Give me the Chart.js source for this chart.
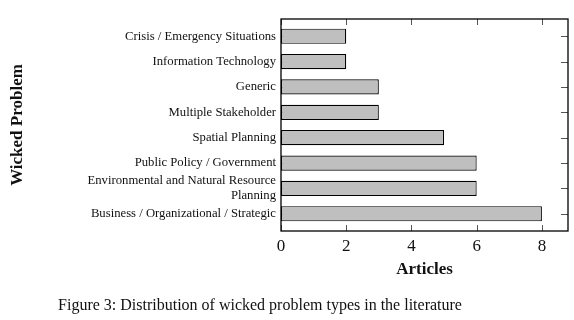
<!DOCTYPE html>
<html>
<head>
<meta charset="utf-8">
<script src="https://cdn.jsdelivr.net/npm/chart.js@4"></script>
<style>
  html, body { margin: 0; padding: 0; background: #fff; }
  #wrap { position: relative; width: 574px; height: 320px; }
  #caption {
    position: absolute; left: 0; width: 520px; top: 296px;
    text-align: center; font-family: "Liberation Serif", serif; font-size: 16px; color: #111;
  }
</style>
</head>
<body>
<div id="wrap">
  <canvas id="chart" width="574" height="320"></canvas>
  <div id="caption">Figure 3: Distribution of wicked problem types in the literature</div>
</div>
<script>
// categories top to bottom
const categories = [
    'Crisis / Emergency Situations',
    'Information Technology',
    'Generic',
    'Multiple Stakeholder',
    'Spatial Planning',
    'Public Policy / Government',
    ['Environmental and Natural Resource', 'Planning'],
    'Business / Organizational / Strategic'
];
const articles = [2, 2, 3, 3, 5, 6, 6, 8];
const xTicks = [0, 2, 4, 6, 8];

const serif = '"Liberation Serif", serif';

// inward tick marks (drawn under bars) + frame
const framePlugin = {
    id: 'frame',
    beforeDatasetsDraw(chart) {
        const { ctx, chartArea: a, scales } = chart;
        ctx.save();
        ctx.strokeStyle = '#555';
        ctx.lineWidth = 1;
        ctx.beginPath();
        xTicks.forEach(v => {
            const px = Math.round(scales.x.getPixelForValue(v)) + 0.5;
            ctx.moveTo(px, a.top); ctx.lineTo(px, a.top + 6);
            ctx.moveTo(px, a.bottom); ctx.lineTo(px, a.bottom - 6);
        });
        categories.forEach((c, i) => {
            const py = Math.round(scales.y.getPixelForValue(i)) + 0.5;
            ctx.moveTo(a.right, py); ctx.lineTo(a.right - 7, py);
            ctx.moveTo(a.left, py); ctx.lineTo(a.left + 7, py);
        });
        ctx.stroke();
        ctx.restore();
    },
    afterDatasetsDraw(chart) {
        const { ctx, chartArea: a } = chart;
        ctx.save();
        ctx.strokeStyle = '#000';
        ctx.lineWidth = 1.3;
        ctx.strokeRect(a.left, a.top, a.right - a.left, a.bottom - a.top);
        ctx.restore();
    }
};

new Chart(document.getElementById('chart'), {
    type: 'bar',
    data: {
        datasets: [{
            data: categories.map((c, i) => ({ x: articles[i], y: i })),
            backgroundColor: '#bfbfbf',
            borderColor: '#000',
            borderWidth: 1.2,
            borderSkipped: false,
            barPercentage: 0.6,
            categoryPercentage: 1
        }]
    },
    options: {
        indexAxis: 'y',
        responsive: false,
        animation: false,
        layout: { padding: { left: 0, right: 6, top: 19, bottom: 40 } },
        plugins: { legend: { display: false }, tooltip: { enabled: false } },
        scales: {
            x: {
                type: 'linear',
                min: 0,
                max: 8.8,
                offset: false,
                afterBuildTicks: s => { s.ticks = xTicks.map(v => ({ value: v })); },
                afterFit: s => { s.height = 49; },
                grid: { display: false, drawTicks: false },
                border: { display: false },
                ticks: { padding: 5, color: '#111', font: { family: serif, size: 17 } },
                title: {
                    display: true, text: 'Articles', color: '#111', padding: 0,
                    font: { family: serif, size: 17, weight: 'bold' }
                }
            },
            y: {
                type: 'linear',
                reverse: true,
                min: -0.68,
                max: 7.68,
                offset: false,
                afterBuildTicks: s => { s.ticks = categories.map((c, i) => ({ value: i })); },
                afterFit: s => { s.width = 281; },
                grid: { display: false, drawTicks: false, offset: false },
                border: { display: false },
                ticks: {
                    autoSkip: false,
                    padding: 5, color: '#111',
                    font: { family: serif, size: 12.7, lineHeight: 1.2 },
                    callback: v => categories[v]
                },
                title: {
                    display: true, text: 'Wicked Problem', color: '#111', padding: { top: 7 },
                    font: { family: serif, size: 17, weight: 'bold' }
                }
            }
        }
    },
    plugins: [framePlugin]
});
</script>
</body>
</html>
